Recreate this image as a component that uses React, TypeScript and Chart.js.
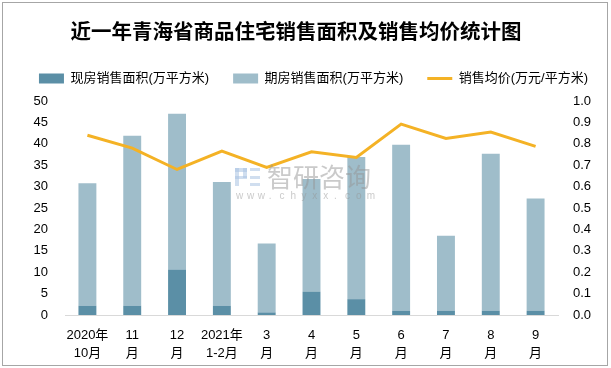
import React, { useEffect, useRef } from "react";
import { Chart, registerables } from "chart.js";

Chart.register(...registerables);

const TITLE = "近一年青海省商品住宅销售面积及销售均价统计图";
const categories: string[][] = [
  ["2020年", "10月"],
  ["11", "月"],
  ["12", "月"],
  ["2021年", "1-2月"],
  ["3", "月"],
  ["4", "月"],
  ["5", "月"],
  ["6", "月"],
  ["7", "月"],
  ["8", "月"],
  ["9", "月"],
];
const seriesNames = ["现房销售面积(万平方米)", "期房销售面积(万平方米)", "销售均价(万元/平方米)"];
const existingArea = [2.2, 2.2, 10.6, 2.2, 0.6, 5.4, 3.7, 1.0, 1.0, 1.0, 1.0];
const futureArea = [28.6, 39.7, 36.4, 28.9, 16.1, 26.4, 33.2, 38.8, 17.5, 36.7, 26.2];
const avgPrice = [0.84, 0.78, 0.68, 0.766, 0.69, 0.763, 0.736, 0.892, 0.825, 0.855, 0.788];

const FONT = "'Liberation Sans', 'Noto Sans CJK SC', sans-serif";
const COLOR_DARK = "#5b8fa6";
const COLOR_LIGHT = "#9fbdca";
const COLOR_LINE = "#f4b225";

const decorPlugin = {
  id: "decor",
  afterLayout(chart: any) {
    if (chart.legend) {
      chart.legend.left += 8;
      chart.legend.right += 8;
    }
  },
  afterDatasetsDraw(chart: any) {
    const ctx = chart.ctx;
    ctx.save();
    // watermark logo
    ctx.fillStyle = "rgba(170,195,225,0.55)";
    ctx.fillRect(235, 168, 12, 4);
    ctx.fillRect(235, 168, 4, 18);
    ctx.fillRect(243, 168, 4, 10);
    ctx.fillRect(235, 176, 12, 3);
    ctx.fillRect(250, 168, 10, 3);
    ctx.fillRect(250, 176, 10, 3);
    ctx.fillRect(250, 183, 10, 3);
    // watermark text
    ctx.fillStyle = "rgba(150,150,150,0.5)";
    ctx.font = "26px 'Noto Sans CJK SC', sans-serif";
    ctx.textBaseline = "middle";
    ctx.textAlign = "left";
    ctx.fillText("智研咨询", 267, 177);
    ctx.font = "10px 'Liberation Sans', sans-serif";
    const s = "www.chyxx.com";
    let x = 236;
    for (const ch of s) {
      ctx.fillText(ch, x, 196);
      x += 10.9;
    }
    ctx.restore();
  },
  afterDraw(chart: any) {
    const ctx = chart.ctx;
    ctx.save();
    ctx.fillStyle = "#000";
    ctx.font = "bold 20.5px 'Noto Sans CJK SC', sans-serif";
    ctx.textAlign = "center";
    ctx.textBaseline = "middle";
    ctx.fillText(TITLE, 296, 31);
    ctx.restore();
  },
};

export default function App() {
  const ref = useRef<HTMLCanvasElement>(null);
  useEffect(() => {
    if (!ref.current) return;
    const chart = new Chart(ref.current, {
      type: "bar",
      data: {
        labels: categories,
        datasets: [
          {
            type: "bar",
            label: seriesNames[0],
            data: existingArea,
            backgroundColor: COLOR_DARK,
            yAxisID: "y",
            stack: "s",
            order: 1,
            barPercentage: 0.8,
            categoryPercentage: 0.5,
            pointStyle: "rect",
          } as any,
          {
            type: "bar",
            label: seriesNames[1],
            data: futureArea,
            backgroundColor: COLOR_LIGHT,
            yAxisID: "y",
            stack: "s",
            order: 1,
            barPercentage: 0.8,
            categoryPercentage: 0.5,
            pointStyle: "rect",
          } as any,
          {
            type: "line",
            label: seriesNames[2],
            data: avgPrice,
            borderColor: COLOR_LINE,
            backgroundColor: COLOR_LINE,
            borderWidth: 3,
            pointRadius: 0,
            tension: 0,
            yAxisID: "y1",
            order: 0,
            pointStyle: "line",
          } as any,
        ],
      },
      options: {
        responsive: false,
        animation: false,
        layout: { padding: { top: 48, left: 0, right: 0, bottom: 6 } },
        plugins: {
          title: { display: false },
          subtitle: {
            display: true,
            text: "",
            position: "top",
            weight: 500,
            font: { size: 1, lineHeight: 1 },
            padding: { top: 0, bottom: 5 },
          } as any,
          tooltip: { enabled: false },
          legend: {
            position: "top",
            labels: {
              usePointStyle: true,
              pointStyleWidth: 25,
              boxHeight: 10,
              padding: 24,
              color: "#000",
              font: { family: FONT, size: 13 },
              sort: (a: any, b: any) => a.datasetIndex - b.datasetIndex,
            },
          },
        },
        scales: {
          x: {
            stacked: true,
            grid: { display: false, drawTicks: false },
            border: { display: true, color: "#d9d9d9", width: 1 },
            ticks: {
              color: "#000",
              font: { family: FONT, size: 13, lineHeight: 18 / 13 },
              padding: 11,
              maxRotation: 0,
              autoSkip: false,
            },
            afterFit(scale: any) {
              scale.height = 47;
            },
          },
          y: {
            stacked: true,
            position: "left",
            min: 0,
            max: 50,
            grid: { display: false, drawTicks: false },
            border: { display: false },
            ticks: {
              stepSize: 5,
              color: "#000",
              font: { family: FONT, size: 13 },
              padding: 17,
            },
            afterFit(scale: any) {
              scale.width = 65;
            },
          },
          y1: {
            position: "right",
            min: 0,
            max: 1,
            grid: { display: false, drawTicks: false },
            border: { display: false },
            ticks: {
              stepSize: 0.1,
              color: "#000",
              font: { family: FONT, size: 13 },
              padding: 15,
              callback: (v: any) => Number(v).toFixed(1),
            },
            afterFit(scale: any) {
              scale.width = 53;
            },
          },
        },
      },
      plugins: [decorPlugin],
    });
    return () => chart.destroy();
  }, []);
  return (
    <div style={{ position: "fixed", left: 0, top: 0, width: 611, height: 368, background: "#fff" }}>
      <canvas ref={ref} width={611} height={368} style={{ display: "block" }} />
      <div
        style={{
          position: "absolute",
          left: 2,
          top: 2,
          width: 604,
          height: 362,
          border: "1px solid #a6a6a6",
          pointerEvents: "none",
        }}
      />
    </div>
  );
}
